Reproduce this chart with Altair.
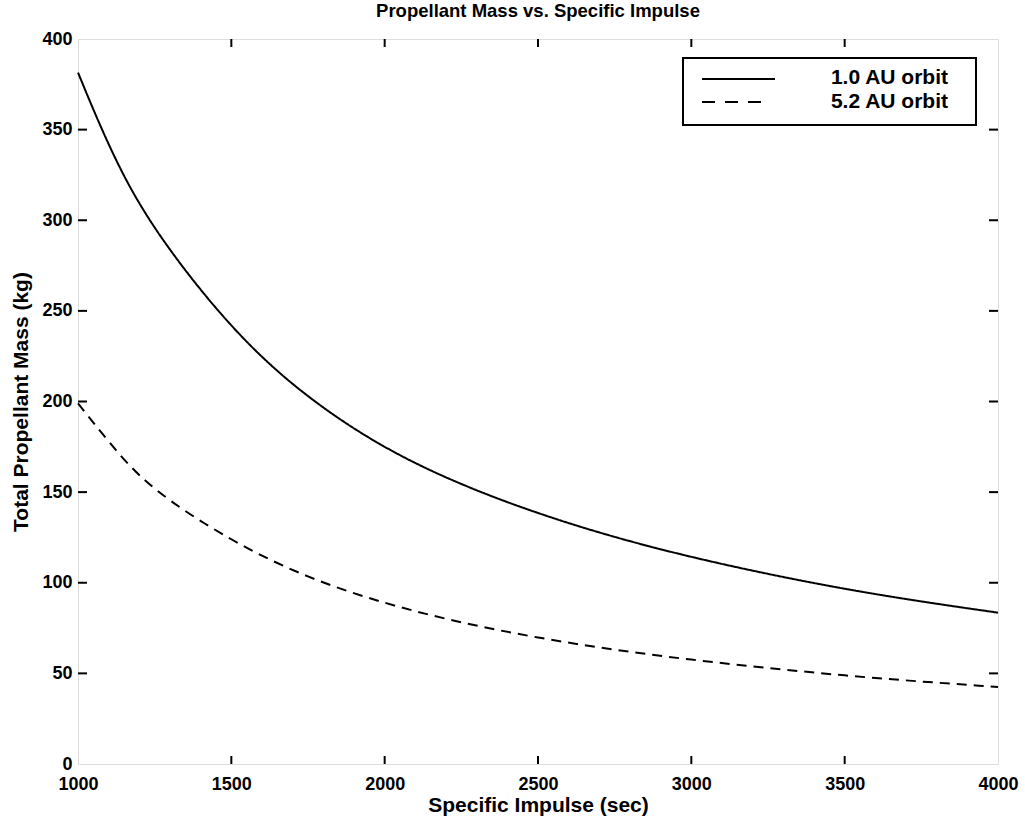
import altair as alt
import pandas as pd

# ---- data ----
isp = [1000, 1100, 1250, 1500, 1750, 2000, 2250, 2500, 2750, 3000, 3250, 3500, 3750, 4000]
mass_1au = [381.5, 342, 296, 242, 203, 175, 154.5, 138.5, 125.3, 114.3, 104.9, 96.7, 89.7, 83.5]
mass_52au = [199, 178, 152, 124, 103.5, 89, 78.2, 69.8, 63.1, 57.6, 53, 48.9, 45.5, 42.5]
series_names = ["1.0 AU orbit", "5.2 AU orbit"]
x_ticks = [1000, 1500, 2000, 2500, 3000, 3500, 4000]
y_ticks = [0, 50, 100, 150, 200, 250, 300, 350, 400]

W, H = 920, 725
FONT = "Liberation Sans"

rows = []
for i, v in zip(isp, mass_1au):
    rows.append({"isp": i, "mass": v, "series": series_names[0]})
for i, v in zip(isp, mass_52au):
    rows.append({"isp": i, "mass": v, "series": series_names[1]})
df = pd.DataFrame(rows)

xscale = alt.Scale(domain=[1000, 4000], nice=False, zero=False)
yscale = alt.Scale(domain=[0, 400], nice=False)

lines = alt.Chart(df).mark_line(color="black", strokeWidth=2, interpolate="natural").encode(
    x=alt.X("isp:Q", scale=xscale,
            axis=alt.Axis(title="Specific Impulse (sec)", values=x_ticks, format="d",
                          ticks=False, tickSize=0, domain=False, grid=False,
                          labelFlush=False, labelOverlap=False, labelPadding=11,
                          labelFont=FONT, labelFontSize=18, labelFontWeight="bold", labelColor="black",
                          titleFont=FONT, titleFontSize=21, titleFontWeight="bold", titleColor="black",
                          titlePadding=1)),
    y=alt.Y("mass:Q", scale=yscale,
            axis=alt.Axis(title="Total Propellant Mass (kg)", values=y_ticks, format="d",
                          ticks=False, tickSize=0, domain=False, grid=False,
                          labelFlush=False, labelOverlap=False, labelPadding=6,
                          labelFont=FONT, labelFontSize=18, labelFontWeight="bold", labelColor="black",
                          titleFont=FONT, titleFontSize=21, titleFontWeight="bold", titleColor="black",
                          titlePadding=10)),
    strokeDash=alt.StrokeDash("series:N",
                              scale=alt.Scale(domain=series_names, range=[[1, 0], [10, 7]]),
                              legend=None),
    detail="series:N",
)

# inward tick marks on all four sides
xt = pd.DataFrame({"isp": x_ticks[1:-1]})
yt = pd.DataFrame({"mass": y_ticks[1:-1]})
tick_style = dict(color="black", strokeWidth=2)
xt_bottom = alt.Chart(xt).mark_rule(**tick_style).encode(
    x=alt.X("isp:Q", scale=xscale), y=alt.value(H), y2=alt.value(H - 8))
xt_top = alt.Chart(xt).mark_rule(**tick_style).encode(
    x=alt.X("isp:Q", scale=xscale), y=alt.value(0), y2=alt.value(8))
yt_left = alt.Chart(yt).mark_rule(**tick_style).encode(
    y=alt.Y("mass:Q", scale=yscale), x=alt.value(0), x2=alt.value(9))
yt_right = alt.Chart(yt).mark_rule(**tick_style).encode(
    y=alt.Y("mass:Q", scale=yscale), x=alt.value(W), x2=alt.value(W - 9))

# legend box
leg_df = pd.DataFrame({"series": series_names})
box = alt.Chart(pd.DataFrame({"k": [0]})).mark_rect(fill="white", stroke="black", strokeWidth=2).encode(
    x=alt.value(605), x2=alt.value(898), y=alt.value(19), y2=alt.value(86))
leg1 = alt.Chart(leg_df.iloc[[0]]).mark_rule(color="black", strokeWidth=2).encode(
    x=alt.value(624), x2=alt.value(697), y=alt.value(40))
leg2 = alt.Chart(leg_df.iloc[[1]]).mark_rule(color="black", strokeWidth=2, strokeDash=[13, 10]).encode(
    x=alt.value(624), x2=alt.value(684), y=alt.value(63))
txt_style = dict(font=FONT, fontSize=21, fontWeight="bold", color="black", align="right", baseline="middle")
leg_t1 = alt.Chart(leg_df.iloc[[0]]).mark_text(**txt_style).encode(
    text="series:N", x=alt.value(870), y=alt.value(39))
leg_t2 = alt.Chart(leg_df.iloc[[1]]).mark_text(**txt_style).encode(
    text="series:N", x=alt.value(870), y=alt.value(63))

chart = alt.layer(lines, xt_bottom, xt_top, yt_left, yt_right, box, leg1, leg2, leg_t1, leg_t2).properties(
    width=W, height=H,
    title=alt.TitleParams("Propellant Mass vs. Specific Impulse", font=FONT, fontSize=18.5,
                          fontWeight="bold", color="black", anchor="middle", offset=10),
    padding={"left": 78, "top": 39, "right": 27, "bottom": 58},
    autosize=alt.AutoSizeParams(type="none"),
).configure_view(stroke="black", strokeWidth=2.5).configure(background="white")

chart.save("out.html", embed_options={"renderer": "svg", "actions": False})
